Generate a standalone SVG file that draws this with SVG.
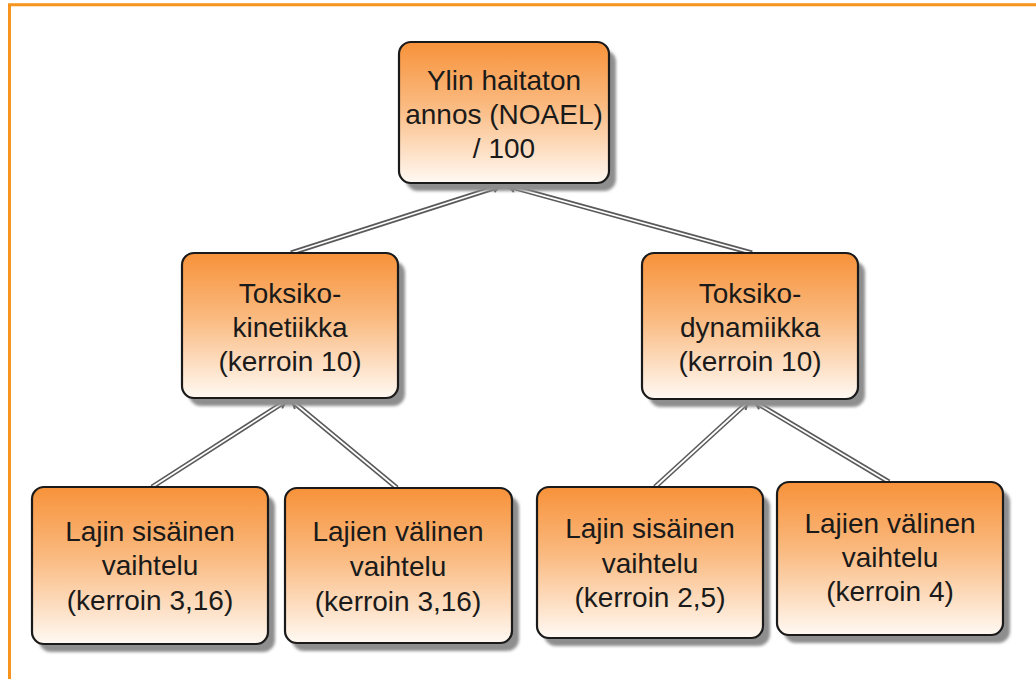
<svg xmlns="http://www.w3.org/2000/svg" width="1036" height="679" viewBox="0 0 1036 679">
<style>
.box{stroke:#1a1a1a;stroke-width:2.2;fill:url(#g)}
.sh{fill:#8e8e8e;filter:url(#blur)}
.t{font-family:"Liberation Sans",Arial,sans-serif;font-size:28px;fill:#1a1a1a;text-anchor:middle}
.co{stroke:#5a5a5a;stroke-width:5;fill:none;stroke-linecap:butt}
.ci{stroke:#ffffff;stroke-width:1.8;fill:none}
</style>
<defs>
<linearGradient id="g" x1="0" y1="0" x2="0" y2="1">
<stop offset="0" stop-color="#F7923A"/>
<stop offset="0.45" stop-color="#FABA80"/>
<stop offset="1" stop-color="#FFF9F3"/>
</linearGradient>
<filter id="blur" x="-10%" y="-10%" width="120%" height="120%"><feGaussianBlur stdDeviation="1.5"/></filter>
<marker id="ah" viewBox="0 0 10 10" refX="1" refY="5" markerWidth="2.4" markerHeight="2.4" orient="auto">
<path d="M7,1.5 L1,5 L7,8.5" fill="none" stroke="#5a5a5a" stroke-width="1.6"/>
</marker>
</defs>
<rect width="1036" height="679" fill="#ffffff"/>
<g id="frame">
<path d="M9.5,679 V4.7 H1036" fill="none" stroke="#F7941D" stroke-width="3"/>
</g>
<g id="connectors">
<line class="co" x1="500" y1="186" x2="291" y2="253" marker-start="url(#ah)"/>
<line class="ci" x1="500" y1="186" x2="291" y2="253"/>
<line class="co" x1="508" y1="186" x2="752" y2="253" marker-start="url(#ah)"/>
<line class="ci" x1="508" y1="186" x2="752" y2="253"/>
<line class="co" x1="286" y1="401" x2="152" y2="487" marker-start="url(#ah)"/>
<line class="ci" x1="286" y1="401" x2="152" y2="487"/>
<line class="co" x1="292" y1="401" x2="397" y2="488" marker-start="url(#ah)"/>
<line class="ci" x1="292" y1="401" x2="397" y2="488"/>
<line class="co" x1="748" y1="402" x2="655" y2="487" marker-start="url(#ah)"/>
<line class="ci" x1="748" y1="402" x2="655" y2="487"/>
<line class="co" x1="755" y1="402" x2="889" y2="482" marker-start="url(#ah)"/>
<line class="ci" x1="755" y1="402" x2="889" y2="482"/>
</g>
<g id="n-noael">
<rect class="sh" x="406" y="50" width="210" height="141" rx="12"/>
<rect class="box" x="399" y="42" width="210" height="141" rx="12"/>
<text class="t" x="504" y="90">Ylin haitaton</text>
<text class="t" x="504" y="124">annos (NOAEL)</text>
<text class="t" x="504" y="158">/ 100</text>
</g>
<g id="n-kinetiikka">
<rect class="sh" x="189" y="261" width="216" height="145" rx="12"/>
<rect class="box" x="182" y="253" width="216" height="145" rx="12"/>
<text class="t" x="290" y="303">Toksiko-</text>
<text class="t" x="290" y="337">kinetiikka</text>
<text class="t" x="290" y="371">(kerroin 10)</text>
</g>
<g id="n-dynamiikka">
<rect class="sh" x="649" y="261" width="216" height="146" rx="12"/>
<rect class="box" x="642" y="253" width="216" height="146" rx="12"/>
<text class="t" x="750" y="303">Toksiko-</text>
<text class="t" x="750" y="337">dynamiikka</text>
<text class="t" x="750" y="371">(kerroin 10)</text>
</g>
<g id="n-sisainen1">
<rect class="sh" x="39" y="495" width="236" height="157" rx="12"/>
<rect class="box" x="32" y="487" width="236" height="157" rx="12"/>
<text class="t" x="150" y="541">Lajin sisäinen</text>
<text class="t" x="150" y="575">vaihtelu</text>
<text class="t" x="150" y="610">(kerroin 3,16)</text>
</g>
<g id="n-valinen1">
<rect class="sh" x="292" y="496" width="227" height="155" rx="12"/>
<rect class="box" x="285" y="488" width="227" height="155" rx="12"/>
<text class="t" x="398" y="541">Lajien välinen</text>
<text class="t" x="398" y="576">vaihtelu</text>
<text class="t" x="398" y="611">(kerroin 3,16)</text>
</g>
<g id="n-sisainen2">
<rect class="sh" x="544" y="495" width="226" height="151" rx="12"/>
<rect class="box" x="537" y="487" width="226" height="151" rx="12"/>
<text class="t" x="650" y="538">Lajin sisäinen</text>
<text class="t" x="650" y="573">vaihtelu</text>
<text class="t" x="650" y="607">(kerroin 2,5)</text>
</g>
<g id="n-valinen2">
<rect class="sh" x="784" y="490" width="226" height="153" rx="12"/>
<rect class="box" x="777" y="482" width="226" height="153" rx="12"/>
<text class="t" x="890" y="533">Lajien välinen</text>
<text class="t" x="890" y="567">vaihtelu</text>
<text class="t" x="890" y="601">(kerroin 4)</text>
</g>
</svg>
